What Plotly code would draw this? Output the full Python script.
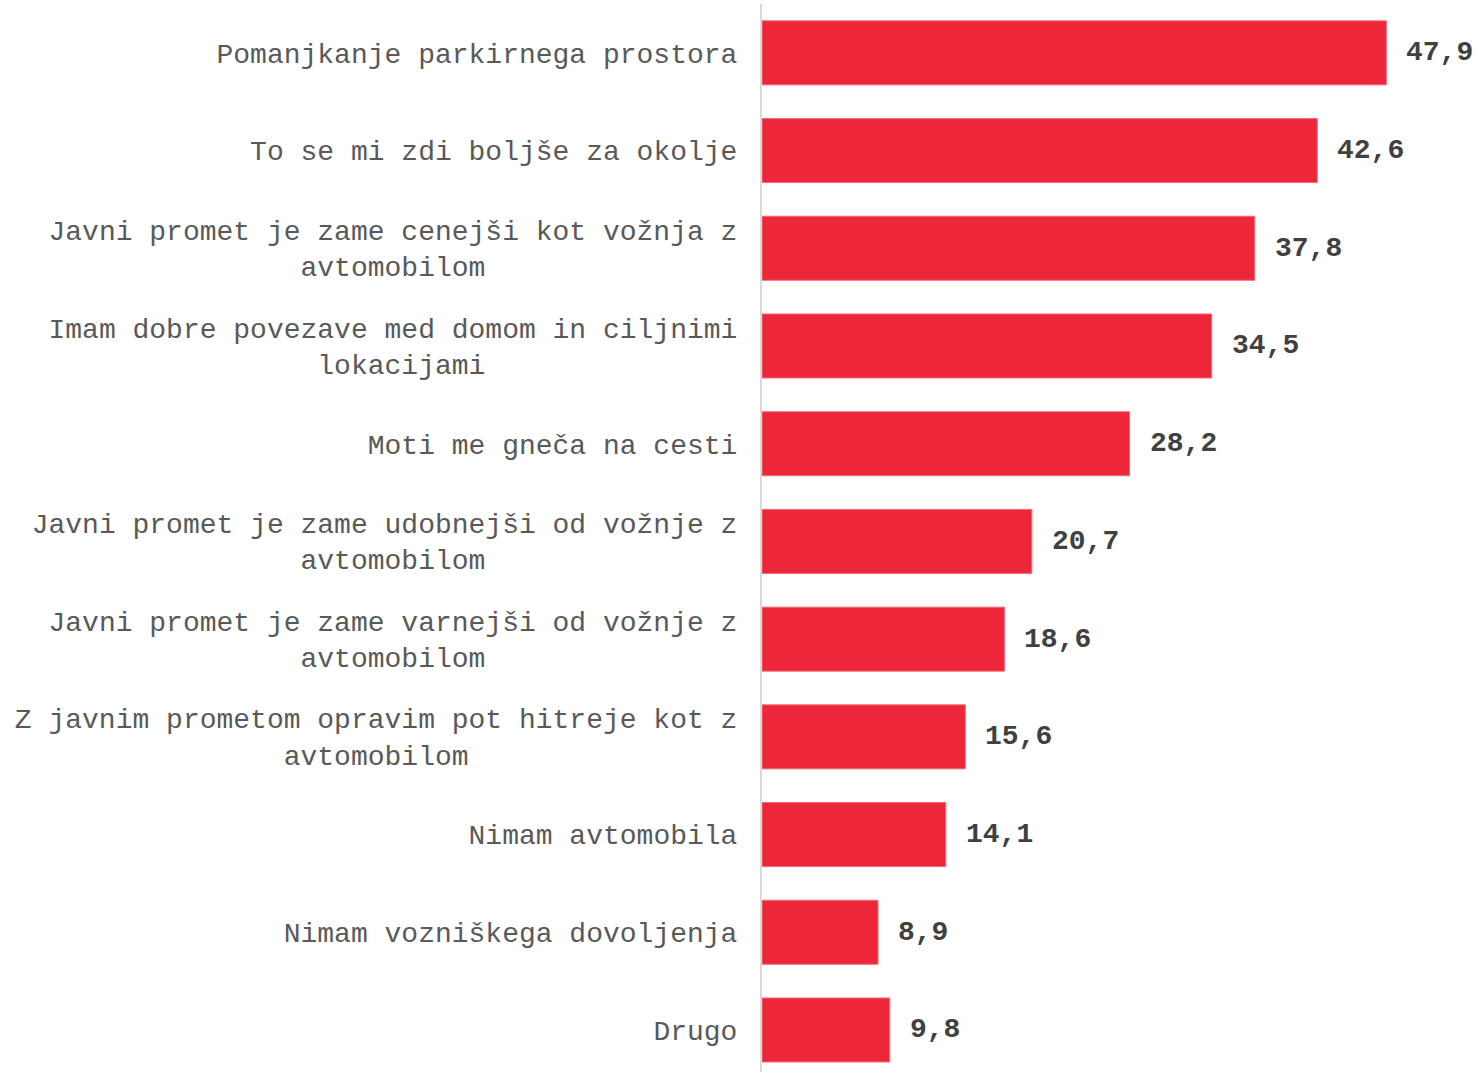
import plotly.graph_objects as go

NBSP = "\u00a0"


def centered(first, second):
    # monospaced labels: pad the second line so it sits centred under the first
    pad = (len(first) - len(second)) // 2
    return first + "<br>" + second + NBSP * pad


categories = [
    "Pomanjkanje parkirnega prostora",
    "To se mi zdi boljše za okolje",
    centered("Javni promet je zame cenejši kot vožnja z", "avtomobilom"),
    centered("Imam dobre povezave med domom in ciljnimi", "lokacijami"),
    "Moti me gneča na cesti",
    centered("Javni promet je zame udobnejši od vožnje z", "avtomobilom"),
    centered("Javni promet je zame varnejši od vožnje z", "avtomobilom"),
    centered("Z javnim prometom opravim pot hitreje kot z", "avtomobilom"),
    "Nimam avtomobila",
    "Nimam vozniškega dovoljenja",
    "Drugo",
]
values = [47.9, 42.6, 37.8, 34.5, 28.2, 20.7, 18.6, 15.6, 14.1, 8.9, 9.8]
value_labels = [f"{v:.1f}".replace(".", ",") for v in values]

FONT = "Courier New, Liberation Mono, monospace"

fig = go.Figure(
    go.Bar(
        x=values,
        y=categories,
        orientation="h",
        marker=dict(color="#ED2639", line=dict(color="#F26B76", width=1)),
        width=0.655,
        hoverinfo="skip",
    )
)

for cat, v, lab in zip(categories, values, value_labels):
    fig.add_annotation(
        x=v, y=cat, text=f"<b>{lab}</b>", showarrow=False,
        xanchor="left", yanchor="middle", xshift=18,
        font=dict(family=FONT, size=28, color="#404040"),
    )

fig.update_layout(
    width=1475,
    height=1072,
    margin=dict(l=762, r=0, t=4, b=0),
    paper_bgcolor="white",
    plot_bgcolor="white",
    showlegend=False,
    xaxis=dict(
        range=[0, 54.7],
        visible=False,
        showgrid=False,
        zeroline=False,
    ),
    yaxis=dict(
        type="category",
        categoryorder="array",
        categoryarray=categories,
        range=[10.43, -0.5],
        showgrid=False,
        zeroline=False,
        showline=True,
        linecolor="#D9D9D9",
        linewidth=2,
        ticks="",
        ticklabelstandoff=17,
        tickfont=dict(family=FONT, size=28, color="#595959"),
    ),
)

fig.write_html("out.html")
